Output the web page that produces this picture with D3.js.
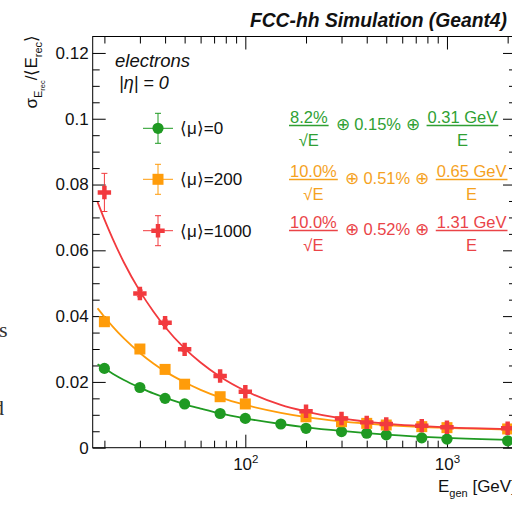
<!DOCTYPE html>
<meta charset="utf-8">
<style type="text/css">
  body { margin: 0; background: #fff; overflow: hidden; }
  svg { display: block; font-family: "Liberation Sans", Arial, Helvetica, sans-serif; }
  .tick line { stroke: #000; stroke-width: 1; }
  .tick text { fill: #111; font-size: 17px; }
  .doc { font-family: "Liberation Serif", "DejaVu Serif", serif; font-size: 22px; fill: #333; }
</style>
<body>
</body>
<script src="https://d3js.org/d3.v7.min.js"></script>
<script>
  // measured points, E_gen in GeV
  var greenE = [20, 30, 40, 50, 75, 100, 150, 200, 300, 400, 500, 750, 1000, 2000];
  var greenRes = [0.0241, 0.0183, 0.0150, 0.0133, 0.0104, 0.0089, 0.0072, 0.0059, 0.0049, 0.0044, 0.0039, 0.0030, 0.0026, 0.0021];

  var pileupE = [20, 30, 40, 50, 75, 100, 200, 300, 400, 500, 750, 1000, 2000];
  var orangeRes = [0.0383, 0.0300, 0.0238, 0.0193, 0.0155, 0.0133, 0.0094, 0.0079, 0.0074, 0.0069, 0.0064, 0.0061, 0.0057];
  var redRes = [0.0776, 0.0469, 0.0380, 0.0299, 0.0218, 0.0170, 0.0111, 0.0089, 0.0077, 0.0072, 0.0067, 0.0062, 0.0059];
  var redErr = [0.0058, 0.0010, 0.0008, 0.0006, 0.0005, 0.0004, 0.0003, 0.0003, 0.0002, 0.0002, 0.0002, 0.0002, 0.0002];

  // fitted curves
  var curveE = [18.5, 20, 22, 25, 30, 35, 40, 50, 60, 75, 100, 150, 200, 300, 500, 1000, 2200];
  var greenFit = [0.0254, 0.0241, 0.0225, 0.0206, 0.0183, 0.0165, 0.0152, 0.0132, 0.0119, 0.0104, 0.0089, 0.0072, 0.0062, 0.0051, 0.0040, 0.0030, 0.0023];
  var orangeFit = [0.0424, 0.0398, 0.0368, 0.0332, 0.0288, 0.0256, 0.0232, 0.0199, 0.0176, 0.0153, 0.0130, 0.0106, 0.0093, 0.0080, 0.0069, 0.0060, 0.0055];
  var redFit = [0.0747, 0.0694, 0.0635, 0.0563, 0.0476, 0.0414, 0.0367, 0.0302, 0.0259, 0.0216, 0.0173, 0.0130, 0.0110, 0.0089, 0.0073, 0.0062, 0.0057];

  var legendLabels = ["\u27E8\u03BC\u27E9=0", "\u27E8\u03BC\u27E9=200", "\u27E8\u03BC\u27E9=1000"];
  var stochTerms = ["8.2%", "10.0%", "10.0%"];
  var constTerms = ["0.15%", "0.51%", "0.52%"];
  var noiseTerms = ["0.31 GeV", "0.65 GeV", "1.31 GeV"];

  var yMajor = [0, 0.02, 0.04, 0.06, 0.08, 0.1, 0.12];
  var yTickLabels = ["0", "0.02", "0.04", "0.06", "0.08", "0.1", "0.12"];
  var xMajor = [100, 1000];
  var xTickExp = ["2", "3"];

  var green = "#1f9a22", orange = "#ff9c0a", red = "#f23a3e";
  var colors = [green, orange, red];
  var textColors = ["#2f9f33", "#f5a21e", "#ea4447"];

  var margin = { top: 36.5, right: -4, bottom: 57.3, left: 92.7 },
    width = 512 - margin.left - margin.right,
    height = 505 - margin.top - margin.bottom;

  var svg0 = d3.select("body").append("svg")
    .attr("width", 512)
    .attr("height", 505);

  // bits of the surrounding document text
  svg0.append("text").attr("class", "doc").attr("x", -1).attr("y", 337).text("s");
  svg0.append("text").attr("class", "doc").attr("x", -7).attr("y", 415).text("d");

  var svg = svg0.append("g")
    .attr("transform", "translate(" + margin.left + "," + margin.top + ")");

  var x = d3.scaleLog().domain([17.5, 2200]).range([0, width]);
  var y = d3.scaleLinear().domain([0, 0.125]).range([height, 0]);

  var yMinor = d3.range(0.005, 0.125, 0.005).filter(function(d) {
    return Math.abs(d / 0.02 - Math.round(d / 0.02)) > 0.01;
  });
  var xMinor = [20, 30, 40, 50, 60, 70, 80, 90, 200, 300, 400, 500, 600, 700, 800, 900, 2000];

  function noDomain(g) { g.select(".domain").remove(); }

  // left axis
  svg.append("g")
    .call(d3.axisLeft(y).tickValues(yMajor).tickSizeInner(-13).tickSizeOuter(0).tickPadding(4)
      .tickFormat(function(d, i) { return yTickLabels[i]; }))
    .call(noDomain);
  svg.append("g")
    .call(d3.axisLeft(y).tickValues(yMinor).tickSizeInner(-7).tickSizeOuter(0).tickFormat(""))
    .call(noDomain);
  // right axis
  svg.append("g").attr("transform", "translate(" + width + ",0)")
    .call(d3.axisRight(y).tickValues(yMajor).tickSizeInner(-13).tickSizeOuter(0).tickFormat(""))
    .call(noDomain);
  svg.append("g").attr("transform", "translate(" + width + ",0)")
    .call(d3.axisRight(y).tickValues(yMinor).tickSizeInner(-7).tickSizeOuter(0).tickFormat(""))
    .call(noDomain);
  // bottom axis
  var xb = svg.append("g").attr("transform", "translate(0," + height + ")")
    .call(d3.axisBottom(x).tickValues(xMajor).tickSizeInner(-13).tickSizeOuter(0).tickPadding(0)
      .tickFormat(""))
    .call(noDomain);
  xb.selectAll(".tick").append("text")
    .attr("y", 22.5)
    .attr("text-anchor", "middle")
    .each(function(d, i) {
      var t = d3.select(this);
      t.append("tspan").text("10");
      t.append("tspan").attr("dy", -7).style("font-size", "11.5px").text(xTickExp[i]);
    });
  svg.append("g").attr("transform", "translate(0," + height + ")")
    .call(d3.axisBottom(x).tickValues(xMinor).tickSizeInner(-7).tickSizeOuter(0).tickFormat(""))
    .call(noDomain);
  // top axis
  svg.append("g")
    .call(d3.axisTop(x).tickValues(xMajor).tickSizeInner(-13).tickSizeOuter(0).tickFormat(""))
    .call(noDomain);
  svg.append("g")
    .call(d3.axisTop(x).tickValues(xMinor).tickSizeInner(-7).tickSizeOuter(0).tickFormat(""))
    .call(noDomain);

  // frame
  svg.append("rect")
    .attr("width", width).attr("height", height)
    .attr("fill", "none").attr("stroke", "#000").attr("stroke-width", 1);

  // axis titles
  var xt = svg0.append("text")
    .attr("x", 438).attr("y", 492)
    .style("font-size", "17px").attr("fill", "#111");
  xt.append("tspan").text("E");
  xt.append("tspan").attr("dy", 5).style("font-size", "11px").text("gen");
  xt.append("tspan").attr("dy", -5).text(" [GeV]");

  var yt = svg0.append("text")
    .attr("transform", "translate(37,35) rotate(-90)")
    .attr("text-anchor", "end")
    .style("font-size", "17px").attr("fill", "#111");
  yt.append("tspan").text("\u03C3");
  yt.append("tspan").attr("dy", 5).style("font-size", "11px").text("E");
  yt.append("tspan").attr("dy", 3).style("font-size", "7.5px").text("rec");
  yt.append("tspan").attr("dy", -8).text("/\u27E8E");
  yt.append("tspan").attr("dy", 5).style("font-size", "11px").text("rec");
  yt.append("tspan").attr("dy", -5).text("\u27E9");

  // title
  svg0.append("text")
    .attr("x", 507).attr("y", 27)
    .attr("text-anchor", "end")
    .style("font-size", "19.3px").style("font-weight", "bold").style("font-style", "italic")
    .attr("fill", "#111")
    .text("FCC-hh Simulation (Geant4)");

  // curves
  svg.append("clipPath").attr("id", "clip")
    .append("rect").attr("width", width).attr("height", height);

  var line = d3.line()
    .x(function(d) { return x(d[0]); })
    .y(function(d) { return y(d[1]); })
    .curve(d3.curveMonotoneX);

  [greenFit, orangeFit, redFit].forEach(function(fit, k) {
    svg.append("path")
      .datum(curveE.map(function(e, i) { return [e, fit[i]]; }))
      .attr("clip-path", "url(#clip)")
      .attr("fill", "none")
      .attr("stroke", colors[k])
      .attr("stroke-width", 1.8)
      .attr("d", line);
  });

  var symbols = [
    d3.symbol().type(d3.symbolCircle).size(98),
    d3.symbol().type(d3.symbolSquare).size(121),
    d3.symbol().type(d3.symbolCross).size(100)
  ];

  // error bars (mostly hidden under markers)
  var errG = svg.append("g").attr("stroke", red).attr("stroke-width", 1);
  pileupE.forEach(function(e, i) {
    var cx = x(e), y1 = y(redRes[i] + redErr[i]), y2 = y(redRes[i] - redErr[i]);
    errG.append("line").attr("x1", cx).attr("x2", cx).attr("y1", y1).attr("y2", y2);
    errG.append("line").attr("x1", cx - 3).attr("x2", cx + 3).attr("y1", y1).attr("y2", y1);
    errG.append("line").attr("x1", cx - 3).attr("x2", cx + 3).attr("y1", y2).attr("y2", y2);
  });

  var series = [
    { e: greenE, v: greenRes },
    { e: pileupE, v: orangeRes },
    { e: pileupE, v: redRes }
  ];

  series.forEach(function(s, k) {
    svg.append("g").selectAll("path")
      .data(s.e.map(function(e, i) { return [e, s.v[i]]; }))
      .join("path")
      .attr("transform", function(d) { return "translate(" + x(d[0]) + "," + y(d[1]) + ")"; })
      .attr("d", symbols[k])
      .attr("fill", colors[k]);
  });

  // legend
  svg0.append("text").attr("x", 115).attr("y", 67)
    .style("font-size", "18.5px").style("font-style", "italic").attr("fill", "#111")
    .text("electrons");
  svg0.append("text").attr("x", 119).attr("y", 89)
    .style("font-size", "18px").style("font-style", "italic").attr("fill", "#111")
    .text("|\u03B7| = 0");

  var legY = [128.3, 179.3, 230.7];
  legendLabels.forEach(function(lab, k) {
    var g = svg0.append("g").attr("transform", "translate(158," + legY[k] + ")");
    g.append("line").attr("x1", -15).attr("x2", 15).attr("stroke", colors[k]).attr("stroke-width", 1);
    g.append("line").attr("y1", -15).attr("y2", 15).attr("stroke", colors[k]).attr("stroke-width", 1);
    g.append("line").attr("x1", -3).attr("x2", 3).attr("y1", -15).attr("y2", -15).attr("stroke", colors[k]);
    g.append("line").attr("x1", -3).attr("x2", 3).attr("y1", 15).attr("y2", 15).attr("stroke", colors[k]);
    g.append("path").attr("d", symbols[k]).attr("fill", colors[k]);
    g.append("text").attr("x", 22).attr("y", 6)
      .style("font-size", "17px").attr("fill", "#111").text(lab);
  });

  // resolution formulas
  var fracY = [125.5, 179.5, 230.5];
  function fraction(g, x0, ly, num, den, col) {
    var tn = g.append("text").attr("x", x0).attr("y", ly - 3).attr("fill", col).text(num);
    var w = tn.node().getComputedTextLength();
    var td = g.append("text").attr("y", ly + 20).attr("fill", col).attr("text-anchor", "middle").text(den);
    var w2 = td.node().getComputedTextLength();
    var fw = Math.max(w, w2) + 2;
    tn.attr("x", x0 + fw / 2).attr("text-anchor", "middle");
    td.attr("x", x0 + fw / 2);
    g.append("line").attr("x1", x0).attr("x2", x0 + fw).attr("y1", ly).attr("y2", ly)
      .attr("stroke", col).attr("stroke-width", 1.3);
    return x0 + fw;
  }
  stochTerms.forEach(function(st, k) {
    var col = textColors[k], ly = fracY[k];
    var g = svg0.append("g").style("font-size", "16.5px");
    var xe = fraction(g, 289, ly, st, "\u221AE", col);
    var mid = g.append("text").attr("x", xe + 7).attr("y", ly + 4.5).attr("fill", col)
      .text("\u2295 " + constTerms[k] + " \u2295");
    var xm = xe + 7 + mid.node().getComputedTextLength();
    fraction(g, xm + 7, ly, noiseTerms[k], "E", col);
  });
</script>
